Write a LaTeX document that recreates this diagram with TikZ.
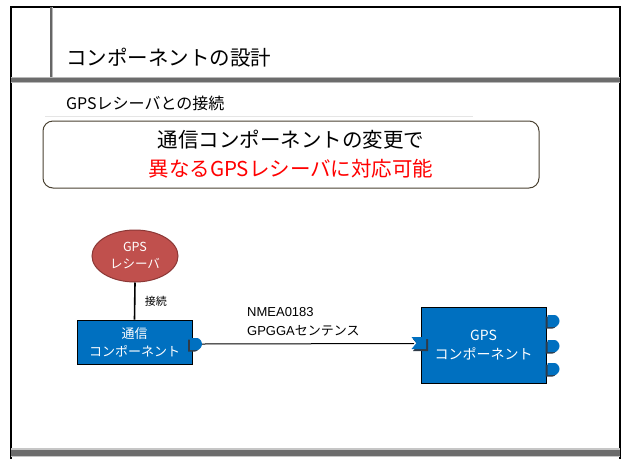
\documentclass[tikz,border=0pt]{standalone}
\usepackage{fontspec}
\usetikzlibrary{shapes.geometric}
\setmainfont{Noto Sans CJK JP}
\newfontfamily\latinsans{Liberation Sans}
\definecolor{compblue}{HTML}{0070C0}
\definecolor{gpsred}{HTML}{C0504D}
\definecolor{gpsredline}{HTML}{8C3836}
\definecolor{boxline}{HTML}{4A4232}
\definecolor{portshadow}{HTML}{2F3B48}
\tikzset{
  frame/.style={line width=2.6pt, black},
  comp/.style={draw=black, line width=0.8pt, fill=compblue, text=white, align=center, inner sep=0pt},
  wire/.style={line width=1pt, black},
  portfill/.style={fill=compblue, draw=none},
  portshad/.style={fill=portshadow, draw=none},
}
\newcommand{\outport}[3]{% x0, y, style
  \fill[#3] (#1,#2-6) -- (#1+7,#2-6) .. controls (#1+10,#2-6) and (#1+12,#2-2) .. (#1+12,#2) .. controls (#1+12,#2+2) and (#1+10,#2+6) .. (#1+7,#2+6) -- (#1,#2+6) -- cycle;}
\begin{document}
\begin{tikzpicture}[x=1pt,y=-1pt]
\useasboundingbox (0,0) rectangle (622,459);
\fill[white] (0,0) rectangle (622,459);
% slide frame
\draw[frame] (11,459) -- (11,7) -- (620,7) -- (620,459);
\fill[gray!55] (49.5,7) rectangle (53,82);
\fill[gray!80!black] (50.3,7) rectangle (52.2,82);
\fill[gray!55] (11,76.5) rectangle (620,83);
\fill[gray!85!black] (11,77.5) rectangle (620,81.5);
\fill[gray!45] (11,448) rectangle (620,457);
\fill[gray!85!black] (11,450) rectangle (620,456);
\draw[gray!20, line width=0.8pt] (45,116) -- (473,116);
% titles
\node[anchor=west, inner sep=0pt, font=\fontsize{20.5}{24}\selectfont] (title) at (66,58) {コンポーネントの設計};
\node[anchor=west, inner sep=0pt, font=\fontsize{16}{19}\selectfont] (subtitle) at (66,103) {GPSレシーバとの接続};
% message box
\node[draw=boxline, line width=1pt, rounded corners=10pt, minimum width=496pt, minimum height=67pt, align=center, inner sep=0pt, font=\fontsize{20.5}{29}\selectfont] (msg) at (291,154.5) {通信コンポーネントの変更で\\\textcolor{red}{異なるGPSレシーバに対応可能}};
% GPS receiver
\node[ellipse, draw=gpsredline, line width=1pt, fill=gpsred, minimum width=86pt, minimum height=52pt, inner sep=0pt, text=white, align=center, font=\fontsize{12.5}{17}\selectfont] (recv) at (135,256) {GPS\\レシーバ};
% comm component
\node[comp, minimum width=115pt, minimum height=44pt, font=\fontsize{13}{18}\selectfont] (comm) at (134.5,342) {通信\\コンポーネント};
\draw[line width=1.6pt] (recv.south) -- node[right=6pt, font=\fontsize{11}{13}\selectfont, text=black] (lbl1) {接続} (comm.north);
% GPS component
\node[comp, minimum width=125pt, minimum height=76pt, font=\fontsize{14}{19}\selectfont] (gps) at (483.5,345) {GPS\\コンポーネント};
% output port of comm
\outport{188}{345.5}{portshad}
\outport{190}{344}{portfill}
\coordinate (outp) at (202,344);
% input port of gps
\fill[portshad] (413,339) -- (428,339) -- (428,351) -- (413,351) -- (418,345) -- cycle;
\fill[portfill] (411.5,337) -- (426,337) -- (426,349) -- (411.5,349) -- (416.5,343) -- cycle;
\coordinate (inp) at (414,343.5);
\draw[wire] (outp) -- (inp);
\node[anchor=south west, align=left, inner sep=0pt, font=\latinsans\fontsize{13}{19}\selectfont] (lbl2) at (247,336) {NMEA0183\\GPGGA{\fontspec{Noto Sans CJK JP}センテンス}};
% output ports of gps
\foreach \yy/\nm in {321/o1, 346/o2, 369/o3}{
  \outport{545.5}{\yy+1.5}{portshad}
  \outport{547.5}{\yy}{portfill}
  \coordinate (\nm) at (559.5,\yy);
}
\end{tikzpicture}
\end{document}
